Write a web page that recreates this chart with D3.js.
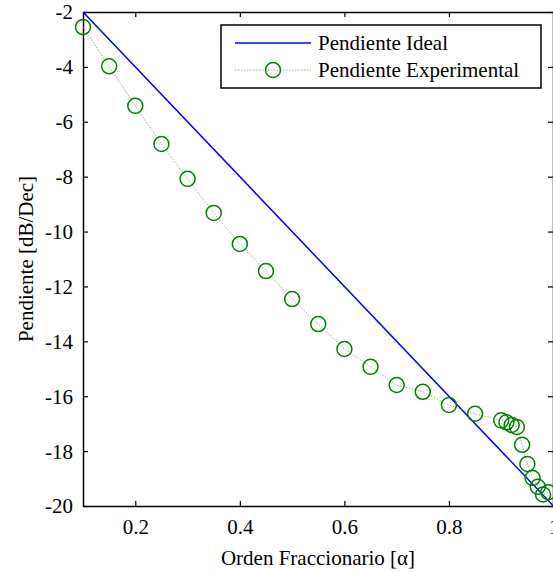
<!DOCTYPE html>
<html>
<head>
<meta charset="utf-8">
<script src="https://cdn.jsdelivr.net/npm/d3@7"></script>
<style>
  body { margin: 0; background: #fff; }
  svg { display: block; }
  svg text { font-family: 'Liberation Serif', 'Times New Roman', 'DejaVu Serif', serif !important; fill: #000; }
  .axis path, .axis line { stroke: #000; }
</style>
</head>
<body>
<div id="chart"></div>
<script>
  // ideal slope: -20 dB/dec per unit order
  var idealAlpha = [0.1, 1.0];
  var idealSlope = [-2, -20];

  var expAlpha = [0.1, 0.15, 0.2, 0.25, 0.3, 0.35, 0.4, 0.45, 0.5, 0.55, 0.6, 0.65, 0.7, 0.75, 0.8, 0.85,
    0.9, 0.91, 0.92, 0.93, 0.94, 0.95, 0.96, 0.97, 0.98, 0.99];
  var expSlope = [-2.55, -3.98, -5.42, -6.81, -8.08, -9.32, -10.45, -11.44, -12.46, -13.37, -14.28, -14.93, -15.59, -15.84, -16.32, -16.64,
    -16.88, -16.95, -17.05, -17.12, -17.77, -18.47, -18.98, -19.30, -19.58, -19.50];

  var xTicks = [0.2, 0.4, 0.6, 0.8, 1];
  var yTicks = [-2, -4, -6, -8, -10, -12, -14, -16, -18, -20];

  var width = 553, height = 572;
  var margin = {top: 12, right: 0, bottom: 66, left: 83};
  var fontSize = 21;

  var svg = d3.select('#chart')
    .append('svg')
    .attr('width', width)
    .attr('height', height);

  var w = width - margin.left - margin.right,
    h = height - margin.top - margin.bottom;

  var g = svg.append('g')
    .attr('transform', 'translate(' + margin.left + ',' + margin.top + ')');

  var xScale = d3.scaleLinear().domain([0.1, 1]).range([0, w + 0.5]);
  var yScale = d3.scaleLinear().domain([-20, -2]).range([h, 0]);

  var fmtX = function(d) { return d === 1 ? '1' : d3.format('.1f')(d); };
  var fmtY = function(d) { return String(d); };  // plain hyphen like the original

  // box with inward ticks on all four sides
  var xAxis = g.append('g').attr('class', 'axis')
    .attr('transform', 'translate(0,' + h + ')')
    .call(d3.axisBottom(xScale).tickValues(xTicks).tickSizeInner(-5).tickSizeOuter(0).tickPadding(12).tickFormat(fmtX));
  g.append('g').attr('class', 'axis')
    .call(d3.axisTop(xScale).tickValues(xTicks).tickSizeInner(-5).tickSizeOuter(0).tickFormat(''));
  var yAxis = g.append('g').attr('class', 'axis')
    .call(d3.axisLeft(yScale).tickValues(yTicks).tickSizeInner(-5).tickSizeOuter(0).tickPadding(10).tickFormat(fmtY));
  g.append('g').attr('class', 'axis')
    .attr('transform', 'translate(' + w + ',0)')
    .call(d3.axisRight(yScale).tickValues(yTicks).tickSizeInner(-5).tickSizeOuter(0).tickFormat(''));
  g.selectAll('.axis').attr('font-family', null).attr('font-size', fontSize);
  g.selectAll('.axis path').attr('stroke-width', 1.5);
  g.selectAll('.axis .tick line').attr('stroke-width', 1.2);

  xAxis.selectAll('.tick text').attr('dy', null).attr('y', 28);
  yAxis.selectAll('.tick text').attr('dy', '0.33em');

  var line = d3.line()
    .x(function(d) { return xScale(d[0]); })
    .y(function(d) { return yScale(d[1]); });

  g.append('path')
    .datum(d3.zip(idealAlpha, idealSlope))
    .attr('fill', 'none')
    .attr('stroke', '#0000ff')
    .attr('stroke-width', 1.5)
    .attr('d', line);

  var expData = d3.zip(expAlpha, expSlope);

  g.append('path')
    .datum(expData)
    .attr('fill', 'none')
    .attr('stroke', '#7fbf7f')
    .attr('stroke-width', 1)
    .attr('stroke-dasharray', '1.5,1.5')
    .attr('d', line);

  g.selectAll('.pt')
    .data(expData)
    .enter()
    .append('circle')
    .attr('class', 'pt')
    .attr('cx', function(d) { return xScale(d[0]); })
    .attr('cy', function(d) { return yScale(d[1]); })
    .attr('r', 7.5)
    .attr('fill', 'none')
    .attr('stroke', '#008000')
    .attr('stroke-width', 1.5);

  // axis titles
  svg.append('text')
    .attr('x', margin.left + w / 2)
    .attr('y', 565)
    .attr('text-anchor', 'middle')
    .attr('font-size', fontSize)
    .text('Orden Fraccionario [α]');
  svg.append('text')
    .attr('transform', 'translate(33,' + (margin.top + h / 2) + ') rotate(-90)')
    .attr('text-anchor', 'middle')
    .attr('font-size', fontSize)
    .text('Pendiente [dB/Dec]');

  // legend
  var leg = svg.append('g').attr('transform', 'translate(221,25)');
  leg.append('rect')
    .attr('width', 320).attr('height', 63)
    .attr('fill', '#fff').attr('stroke', '#000').attr('stroke-width', 1.5);
  leg.append('line')
    .attr('x1', 14).attr('x2', 90).attr('y1', 18).attr('y2', 18)
    .attr('stroke', '#0000ff').attr('stroke-width', 1.5);
  leg.append('line')
    .attr('x1', 14).attr('x2', 90).attr('y1', 45).attr('y2', 45)
    .attr('stroke', '#7fbf7f').attr('stroke-width', 1).attr('stroke-dasharray', '1.5,1.5');
  leg.append('circle')
    .attr('cx', 52).attr('cy', 45).attr('r', 7.5)
    .attr('fill', 'none').attr('stroke', '#008000').attr('stroke-width', 1.5);
  leg.append('text').attr('x', 97).attr('y', 25).attr('font-size', fontSize).text('Pendiente Ideal');
  leg.append('text').attr('x', 97).attr('y', 52).attr('font-size', fontSize).text('Pendiente Experimental');
</script>
</body>
</html>
